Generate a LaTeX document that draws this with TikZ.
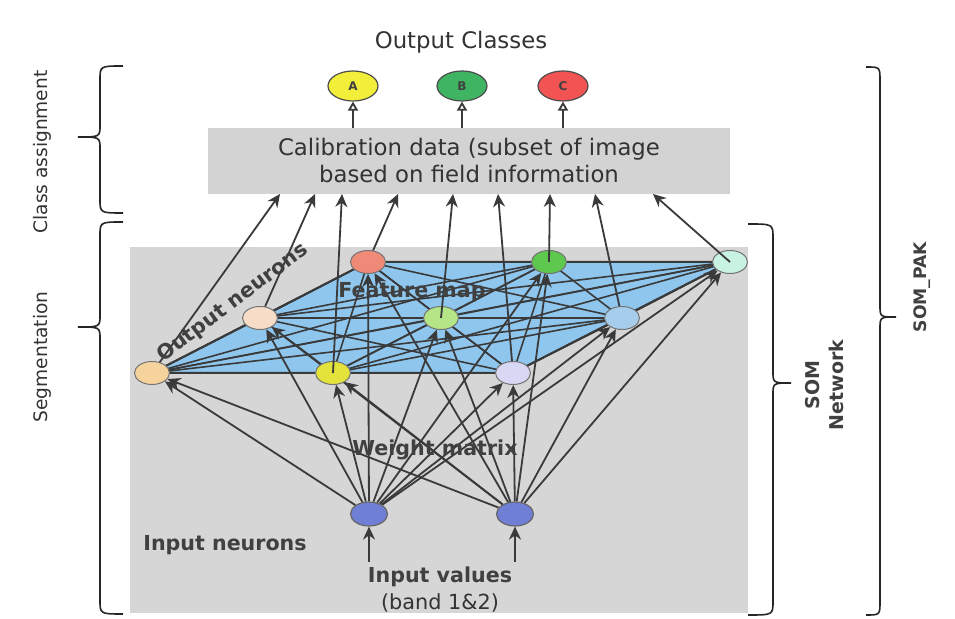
\documentclass[tikz,border=0pt]{standalone}
\usepackage{fontspec}
\setmainfont{DejaVu Sans}
\usetikzlibrary{arrows.meta,shapes.geometric,calc}
\pgfdeclarelayer{back}
\pgfdeclarelayer{mid}
\pgfsetlayers{back,mid,main}
\definecolor{boxgray}{HTML}{D6D6D6}
\definecolor{calgray}{HTML}{D3D3D3}
\definecolor{mapblue}{HTML}{8EC6EE}
\definecolor{linegray}{HTML}{3A3A3A}
\definecolor{labelgray}{HTML}{404040}
\definecolor{cM00}{HTML}{F6D29C}
\definecolor{cM01}{HTML}{F7DCC8}
\definecolor{cM02}{HTML}{F08A78}
\definecolor{cM10}{HTML}{E3E33C}
\definecolor{cM11}{HTML}{B4E586}
\definecolor{cM12}{HTML}{5EC84E}
\definecolor{cM20}{HTML}{D8D8F4}
\definecolor{cM21}{HTML}{A6CDEC}
\definecolor{cM22}{HTML}{C8F2E2}
\definecolor{cA}{HTML}{F2EE3A}
\definecolor{cB}{HTML}{3FB463}
\definecolor{cC}{HTML}{F25454}
\definecolor{inblue}{HTML}{6F7FD6}
\begin{document}
\begin{tikzpicture}[x=0.5pt,y=-0.5pt,
  mapnode/.style={ellipse, draw=black!55, line width=0.5pt, minimum width=17.5pt, minimum height=11.5pt, inner sep=0pt},
  classnode/.style={ellipse, draw=black!70, line width=0.6pt, minimum width=25pt, minimum height=15pt, inner sep=0pt, font=\fontsize{6}{6}\selectfont\bfseries, text=black!75},
  innode/.style={ellipse, draw=black!60, line width=0.6pt, fill=inblue, minimum width=18.5pt, minimum height=12pt, inner sep=0pt},
  link/.style={draw=linegray, line width=0.9pt},
  arr/.style={link, -{Stealth[length=6.5pt,width=6pt]}},
  openarr/.style={link, -{Triangle[open,length=4.5pt,width=5pt,fill=white]}},
  lbl/.style={font=\fontsize{10.3}{12}\selectfont\bfseries, text=labelgray, inner sep=0pt},
  reg/.style={font=\fontsize{11.4}{13.5}\selectfont, text=black!80, inner sep=0pt},
  side/.style={font=\fontsize{9.3}{11}\selectfont, text=black!80, inner sep=0pt},
  bracestyle/.style={draw=black!85, line width=0.8pt},
  calib/.style={fill=calgray, minimum width=261pt, minimum height=33pt, inner sep=0pt, align=center, font=\fontsize{11.4}{13.5}\selectfont, text=black!80}
]
\useasboundingbox (0,0) rectangle (955,619);

% background boxes
\begin{pgfonlayer}{back}
\fill[white] (0,0) rectangle (955,619);
\fill[boxgray] (130,247) rectangle (748,613);
\node[calib] (cal) at (469,161) {Calibration data (subset of image\\based on field information};
\end{pgfonlayer}

% title
\node[reg] (title) at (461,42) {Output Classes};

% output classes
\node[classnode, fill=cA] (A) at (353,86) {A};
\node[classnode, fill=cB] (B) at (462,86) {B};
\node[classnode, fill=cC] (C) at (563,86) {C};
\draw[openarr] (A |- cal.north) -- (A);
\draw[openarr] (B |- cal.north) -- (B);
\draw[openarr] (C |- cal.north) -- (C);

% map nodes
\node[mapnode, fill=cM00] (m00) at (152,373) {};
\node[mapnode, fill=cM10] (m10) at (333,373) {};
\node[mapnode, fill=cM20] (m20) at (513,373) {};
\node[mapnode, fill=cM01] (m01) at (260,318) {};
\node[mapnode, fill=cM11] (m11) at (441,318) {};
\node[mapnode, fill=cM21] (m21) at (622,318) {};
\node[mapnode, fill=cM02] (m02) at (368,262) {};
\node[mapnode, fill=cM12] (m12) at (549,262) {};
\node[mapnode, fill=cM22] (m22) at (730,262) {};

% input neurons
\node[innode] (i1) at (369,514) {};
\node[innode] (i2) at (515,514) {};
\coordinate (v1) at (369,562);
\coordinate (v2) at (515,562);
\draw[arr] (v1) -- (i1);
\draw[arr] (v2) -- (i2);

% feature map plane and links
\begin{pgfonlayer}{mid}
\filldraw[fill=mapblue, draw=linegray, line width=1pt] (m00.center) -- (m20.center) -- (m22.center) -- (m02.center) -- cycle;
\foreach \a [count=\k] in {m00,m10,m20,m01,m11,m21,m02,m12,m22}{
  \foreach \b [count=\l] in {m00,m10,m20,m01,m11,m21,m02,m12,m22}{
    \ifnum\l>\k \draw[link, line width=0.8pt] (\a.center) -- (\b.center); \fi
  }
}
\foreach \t in {m00,m10,m20,m01,m11,m21,m02,m12,m22}{
  \draw[arr] (i1) -- (\t);
  \draw[arr] (i2) -- (\t);
}
\end{pgfonlayer}

% arrows to calibration data
\coordinate (u1) at (280,194);
\coordinate (u2) at (315,194);
\coordinate (u3) at (342,194);
\coordinate (u4) at (398,194);
\coordinate (u5) at (453,194);
\coordinate (u6) at (498,194);
\coordinate (u7) at (550,194);
\coordinate (u8) at (595,194);
\coordinate (u9) at (653,194);
\draw[arr] (m00) -- (u1);
\draw[arr] (m01) -- (u2);
\draw[arr] (m10.center) -- (u3);
\draw[arr] (m02) -- (u4);
\draw[arr] (m11.center) -- (u5);
\draw[arr] (m20) -- (u6);
\draw[arr] (m12.center) -- (u7);
\draw[arr] (m21) -- (u8);
\draw[arr] (m22.center) -- (u9);

% labels
\node[lbl] (fm) at (412,292) {Feature map};
\node[lbl] (wm) at (435,450) {Weight matrix};
\node[lbl, rotate=37] (on) at (233,303) {Output neurons};
\node[lbl] (inn) at (225,545) {Input neurons};
\node[lbl] (iv) at (440,577) {Input values};
\node[font=\fontsize{10.4}{12}\selectfont, text=black!80, inner sep=0pt] (band) at (440,603) {(band 1\&2)};

% side labels
\node[side, rotate=90] (ca) at (42,152) {Class assignment};
\node[side, rotate=90] (seg) at (42,357) {Segmentation};
\node[font=\fontsize{9.5}{12}\selectfont\bfseries, text=labelgray, rotate=90, align=center, inner sep=0pt] (som) at (825,385) {SOM\\Network};
\node[font=\fontsize{8.6}{10}\selectfont\bfseries, text=labelgray, rotate=90, inner sep=0pt] (pak) at (922,287) {SOM\_PAK};

% braces
\draw[bracestyle] (123,66) .. controls (100,66) .. (100,80) -- (100,125) .. controls (100,137) .. (78,137) .. controls (100,137) .. (100,149) -- (100,199) .. controls (100,213) .. (123,213);
\draw[bracestyle] (123,222) .. controls (100,222) .. (100,236) -- (100,315) .. controls (100,327) .. (78,327) .. controls (100,327) .. (100,339) -- (100,600) .. controls (100,614) .. (123,614);
\draw[bracestyle] (748,224) .. controls (773,224) .. (773,238) -- (773,371) .. controls (773,383) .. (791,383) .. controls (773,383) .. (773,395) -- (773,601) .. controls (773,615) .. (748,615);
\draw[bracestyle] (866,67) .. controls (880,67) .. (880,81) -- (880,305) .. controls (880,317) .. (896,317) .. controls (880,317) .. (880,329) -- (880,601) .. controls (880,615) .. (866,615);
\end{tikzpicture}
\end{document}
